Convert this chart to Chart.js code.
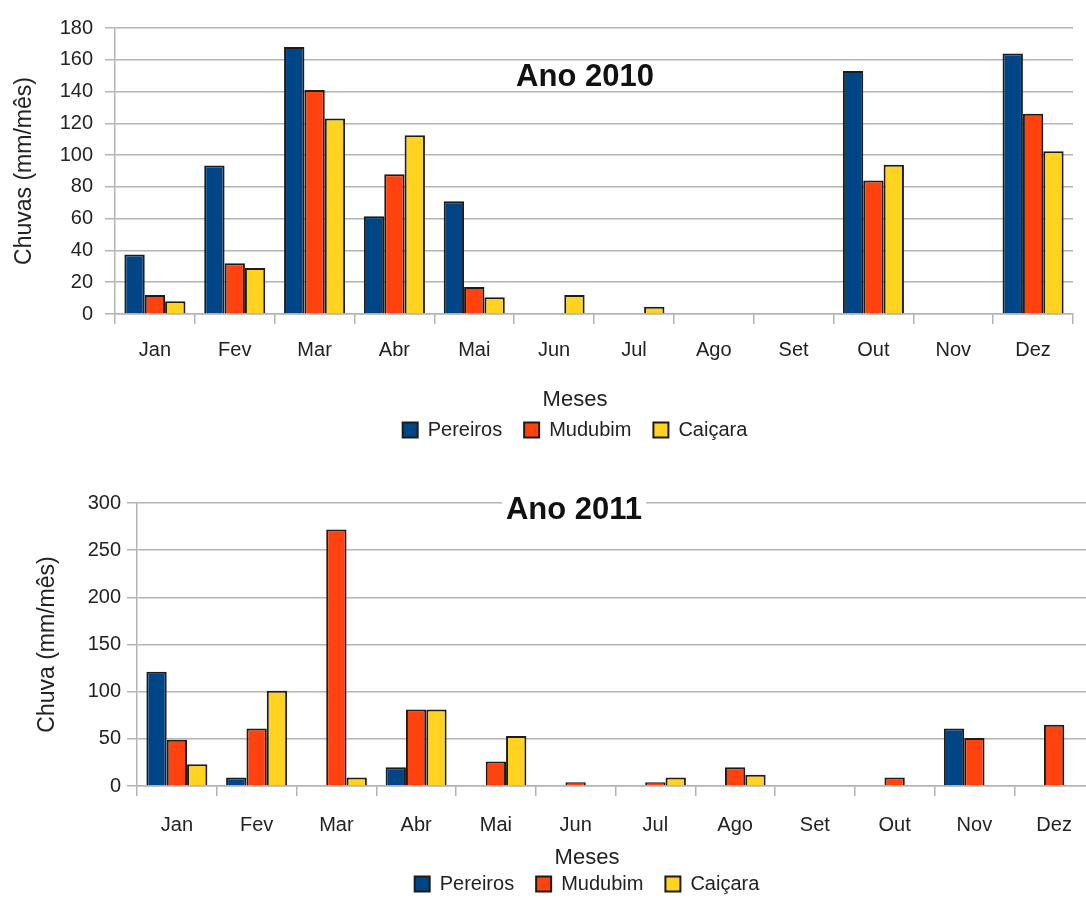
<!DOCTYPE html>
<html>
<head>
<meta charset="utf-8">
<script src="https://cdn.jsdelivr.net/npm/chart.js@4"></script>
<style>
  html, body { margin: 0; padding: 0; background: #fff; overflow: hidden; }
  body { width: 1086px; height: 898px; position: relative; }
  canvas { position: absolute; left: 0; }
  #chart2010 { top: 0; }
  #chart2011 { top: 470px; }
</style>
</head>
<body>
<canvas id="chart2010" width="1086" height="460"></canvas>
<canvas id="chart2011" width="1100" height="440"></canvas>
<script>
// months on the x axis
const meses = ['Jan', 'Fev', 'Mar', 'Abr', 'Mai', 'Jun', 'Jul', 'Ago', 'Set', 'Out', 'Nov', 'Dez'];
const estacoes = ['Pereiros', 'Mudubim', 'Caiçara'];
const cores = ['#004586', '#ff420e', '#ffd320'];

// rainfall 2010 (mm/month)
const pereiros2010 = [37.5, 93.5, 168, 61.5, 71, 0, 0, 0, 0, 153, 0, 164];
const mudubim2010 = [12, 32, 141, 88, 17, 0, 0, 0, 0, 84, 0, 126];
const caicara2010 = [8, 29, 123, 112.5, 10.5, 12, 4.5, 0, 0, 94, 0, 102.5];

// rainfall 2011 (mm/month)
const pereiros2011 = [121, 9, 0, 20, 0, 0, 0, 0, 0, 0, 61, 0];
const mudubim2011 = [49, 61, 272, 81, 26, 4, 4, 20, 0, 9, 51, 65];
const caicara2011 = [23, 101, 9, 81, 53, 0, 9, 12, 0, 0, 0, 0];

const FONT = '"Liberation Sans", Arial, sans-serif';
const GRID = '#b4b4b4';
const TEXT = '#222';

Chart.defaults.font.family = FONT;
Chart.defaults.color = TEXT;

// title drawn inside the plot, with a white box behind it
const innerTitle = {
  id: 'innerTitle',
  afterDraw(chart, args, opts) {
    const { ctx, chartArea } = chart;
    const x = chartArea.left + opts.dx;
    const y = chartArea.top + opts.dy;
    ctx.save();
    ctx.font = 'bold 31px ' + FONT;
    const w = ctx.measureText(opts.text).width;
    ctx.fillStyle = '#fff';
    ctx.fillRect(x - w / 2 - 4, y - 14, w + 8, 28);
    ctx.fillStyle = '#111';
    ctx.textAlign = 'center';
    ctx.textBaseline = 'middle';
    ctx.fillText(opts.text, x, y);
    ctx.restore();
  }
};

// the legend in the picture is not centred on the canvas, move it sideways
const legendShift = {
  id: 'legendShift',
  afterLayout(chart, args, opts) {
    const lg = chart.legend;
    if (lg) {
      lg.left += opts.dx;
      lg.right += opts.dx;
    }
  }
};

function grafico(id, s) {
  const datasets = s.dados.map((d, i) => ({
    label: estacoes[i],
    data: d,
    backgroundColor: cores[i],
    borderColor: '#1c1c1c',
    borderWidth: 2,
    categoryPercentage: 0.765,
    barPercentage: 1
  }));

  return new Chart(document.getElementById(id), {
    type: 'bar',
    data: { labels: meses, datasets },
    plugins: [innerTitle, legendShift],
    options: {
      responsive: false,
      animation: false,
      layout: { padding: s.pad },
      scales: {
        x: {
          afterFit: (scale) => { scale.height = s.xHeight; },
          grid: {
            offset: true,
            drawOnChartArea: true,
            color: (c) => (c.index === meses.length && s.rightBorder ? GRID : 'rgba(0,0,0,0)'),
            tickColor: GRID,
            tickLength: 10,
            lineWidth: 1.5
          },
          border: { display: true, color: GRID, width: 1.5 },
          ticks: { font: { size: 20 }, padding: s.xPad, color: TEXT }
        },
        y: {
          min: 0,
          max: s.yMax,
          afterFit: (scale) => { scale.width = s.yWidth; },
          grid: { color: GRID, lineWidth: 1.5, tickLength: 10 },
          border: { display: true, color: GRID, width: 1.5 },
          ticks: { stepSize: s.yStep, font: { size: 20 }, padding: s.yPad, color: TEXT },
          title: {
            display: true,
            text: s.yTitle,
            font: { size: 23 },
            color: TEXT,
            padding: { top: s.yTitleTop, bottom: 0 }
          }
        }
      },
      plugins: {
        tooltip: { enabled: false },
        innerTitle: { text: s.titulo, dx: s.tx, dy: s.ty },
        legendShift: { dx: s.legDx },
        legend: {
          position: 'bottom',
          labels: { boxWidth: 15, boxHeight: 15, padding: 22, font: { size: 20 }, color: TEXT },
          title: {
            display: true,
            text: 'Meses',
            position: 'center',
            color: TEXT,
            font: { size: 22 },
            padding: { top: 0, bottom: s.legTitleBottom }
          }
        }
      }
    }
  });
}

grafico('chart2010', {
  titulo: 'Ano 2010', tx: 470, ty: 49,
  dados: [pereiros2010, mudubim2010, caicara2010],
  yMax: 180, yStep: 20, yTitle: 'Chuvas (mm/mês)',
  pad: { left: 0, right: 13, top: 28, bottom: 10 },
  yWidth: 115, yPad: 12, yTitleTop: 11,
  xHeight: 75, xPad: 14, legTitleBottom: -17.4, legDx: 38.5,
  rightBorder: true
});

grafico('chart2011', {
  titulo: 'Ano 2011', tx: 437, ty: 7,
  dados: [pereiros2011, mudubim2011, caicara2011],
  yMax: 300, yStep: 50, yTitle: 'Chuva (mm/mês)',
  pad: { left: 0, right: 6, top: 33, bottom: 6 },
  yWidth: 137, yPad: 6, yTitleTop: 34,
  xHeight: 61, xPad: 17, legTitleBottom: -21.4, legDx: 40,
  rightBorder: false
});
</script>
</body>
</html>
